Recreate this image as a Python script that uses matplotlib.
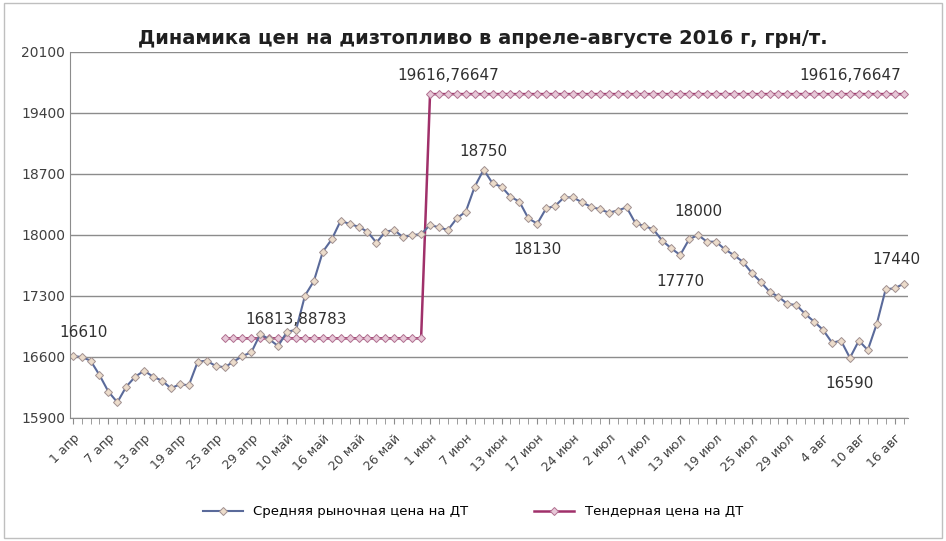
import matplotlib
matplotlib.use("Agg")
import matplotlib.pyplot as plt
import numpy as np

plt.rcParams['font.family'] = ['DejaVu Sans']

market = [16610,16600,16558,16393,16202,16080,16260,16374,16443,16374,16328,16241,16287,16275,
          16546,16558,16497,16482,16546,16611,16654,16864,16803,16726,16891,16910,17304,17472,
          17808,17951,18164,18126,18095,18038,17912,18038,18057,17973,18000,18008,
          18115,18088,18057,18192,18267,18554,18750,18593,18554,18440,18383,18192,18130,18306,
          18333,18432,18432,18375,18325,18295,18257,18280,18318,18134,18103,18065,17934,17847,
          17770,17951,18000,17923,17923,17836,17770,17694,17567,17464,17349,17292,17208,17197,
          17093,17005,16910,16764,16787,16590,16787,16680,16979,17377,17388,17440]
tender_start = 17
tender_jump = 40
tender_low = 16813.88783
tender_high = 19616.76647
tick_labels = ["1 апр","7 апр","13 апр","19 апр","25 апр","29 апр","10 май","16 май","20 май",
               "26 май","1 июн","7 июн","13 июн","17 июн","24 июн","2 июл","7 июл","13 июл",
               "19 июл","25 июл","29 июл","4 авг","10 авг","16 авг"]
peaks = {0:"16610",46:"18750",52:"18130",68:"17770",70:"18000",87:"16590",93:"17440"}

n = len(market)
x = np.arange(n)
tx = np.arange(tender_start, n)
tender = np.where(tx < tender_jump, tender_low, tender_high)

fig = plt.figure(figsize=(9.46,5.41), dpi=100)
fig.patches.append(plt.Rectangle((0.004,0.006),0.992,0.988,transform=fig.transFigure,
                                 fill=False,edgecolor='#bfbfbf',lw=1))
ax = fig.add_axes([70/946, 1-418/541, 838/946, 366/541])
ax.set_ylim(15900, 20100)
ax.set_xlim(-0.3, n-0.5)
ax.set_yticks(np.arange(15900, 20101, 700))
ax.yaxis.grid(True, color='#8c8c8c', lw=1)
ax.set_axisbelow(True)
for s in ['top','right']:
    ax.spines[s].set_visible(False)
for s in ['left','bottom']:
    ax.spines[s].set_color('#8c8c8c')
ax.set_xticks(x, minor=True)
ax.set_xticks(x[::4])
ax.set_xticklabels(tick_labels, rotation=45, ha='right', rotation_mode='anchor',
                   fontsize=9, color='#404040')
ax.tick_params(axis='x', which='both', length=4, color='#8c8c8c', pad=6)
ax.tick_params(axis='y', length=0, labelsize=10, colors='#404040')

ax.plot(tx, tender, color='#a0306a', lw=1.8, marker='D', ms=3.8, mfc='#e8c8d8',
        mec='#b07090', mew=0.7, label='Тендерная цена на ДТ')
ax.plot(x, market, color='#5a6a9a', lw=1.5, marker='D', ms=4.2, mfc='#ecdccb',
        mec='#a09090', mew=0.7, label='Средняя рыночная цена на ДТ')

kw = dict(fontsize=11, color='#303030', textcoords='offset points', ha='center')
offsets = {0:(8,14), 46:(0,10), 52:(0,-22), 68:(0,-22), 70:(0,14), 87:(0,-22), 93:(-5,14)}
for i, lab in peaks.items():
    ax.annotate(lab, (i, market[i]), xytext=offsets[i], **kw)
ax.annotate("16813,88783", (tender_start+8, tender_low), xytext=(0, 10), **kw)
ax.annotate("19616,76647", (tender_jump+2, tender_high), xytext=(0, 10), **kw)
ax.annotate("19616,76647", (n-7, tender_high), xytext=(0, 10), **kw)

fig.text(483/946, 1-38/541, "Динамика цен на дизтопливо в апреле-августе 2016 г, грн/т.",
         ha='center', va='center', fontsize=14, fontweight='bold', color='#202020')
h, l = ax.get_legend_handles_labels()
fig.legend(h[::-1], l[::-1], loc='center', bbox_to_anchor=(0.5, 1-512/541), ncol=2,
           frameon=False, fontsize=9.5, handlelength=3, columnspacing=5)
fig.savefig('out.png', dpi=100)
